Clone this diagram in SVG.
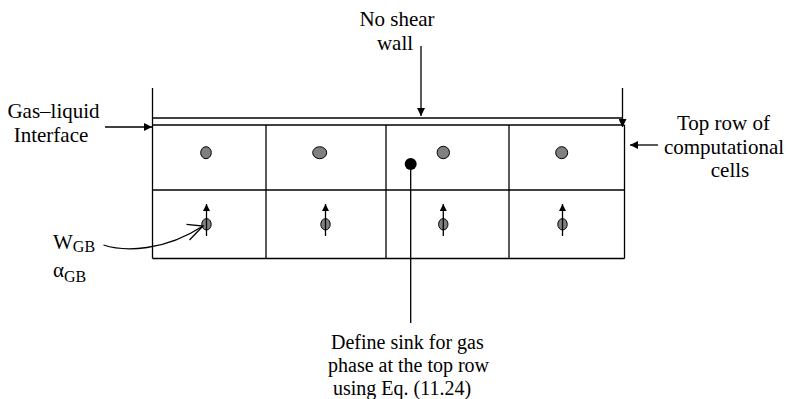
<svg xmlns="http://www.w3.org/2000/svg" width="788" height="399" viewBox="0 0 788 399">
<style>
.ln{stroke:#000;stroke-width:1.3;fill:none}
.g{fill:#808080;stroke:#000;stroke-width:1}
</style>
<defs>
<marker id="ah" viewBox="0 0 10 10" refX="10" refY="5" markerWidth="8" markerHeight="8" markerUnits="userSpaceOnUse" orient="auto">
<path d="M0,0 L10,5 L0,10 z" fill="#000"/>
</marker>
<marker id="ahs" viewBox="0 0 10 10" refX="10" refY="5" markerWidth="7" markerHeight="7" markerUnits="userSpaceOnUse" orient="auto">
<path d="M0,0 L10,5 L0,10 z" fill="#000"/>
</marker>
</defs>
<rect width="788" height="399" fill="#fff"/>
<g id="grid">
<line class="ln" x1="152.5" y1="88" x2="152.5" y2="258.5"/>
<line class="ln" x1="152.5" y1="118" x2="622.5" y2="118"/>
<line class="ln" x1="152.5" y1="125" x2="624.5" y2="125"/>
<line class="ln" x1="152.5" y1="190" x2="624.5" y2="190"/>
<line class="ln" x1="152.5" y1="258.5" x2="624.5" y2="258.5"/>
<line class="ln" x1="624.5" y1="125" x2="624.5" y2="258.5"/>
<line class="ln" x1="266" y1="125" x2="266" y2="258.5"/>
<line class="ln" x1="386" y1="125" x2="386" y2="258.5"/>
<line class="ln" x1="509" y1="125" x2="509" y2="258.5"/>
</g>
<g id="top-cells">
<ellipse class="g" cx="206" cy="152.7" rx="5.3" ry="6"/>
<ellipse class="g" cx="319.7" cy="152.7" rx="7" ry="6"/>
<ellipse class="g" cx="443.3" cy="152.5" rx="6.2" ry="6.2"/>
<ellipse class="g" cx="561.7" cy="152.7" rx="6" ry="6"/>
<circle id="sink" cx="410.7" cy="164" r="6" fill="#000"/>
</g>
<g id="bottom-cells">
<ellipse class="g" cx="206.5" cy="224.3" rx="4.7" ry="5.7"/>
<ellipse class="g" cx="325.5" cy="224.3" rx="4.7" ry="5.7"/>
<ellipse class="g" cx="443.3" cy="224.3" rx="4.7" ry="5.7"/>
<ellipse class="g" cx="562.5" cy="224.3" rx="4.7" ry="5.7"/>
</g>
<g id="connectors">
<line class="ln" x1="421" y1="46" x2="421" y2="116" marker-end="url(#ah)"/>
<line class="ln" x1="105" y1="127" x2="152" y2="127" marker-end="url(#ah)"/>
<line class="ln" x1="622.5" y1="88" x2="622.5" y2="127" marker-end="url(#ah)"/>
<line class="ln" x1="658" y1="145" x2="630" y2="145" marker-end="url(#ah)"/>
<line class="ln" x1="410.7" y1="164" x2="410.7" y2="323"/>
<line class="ln" x1="206.5" y1="236" x2="206.5" y2="204" marker-end="url(#ahs)"/>
<line class="ln" x1="325.5" y1="236" x2="325.5" y2="204" marker-end="url(#ahs)"/>
<line class="ln" x1="443.3" y1="236" x2="443.3" y2="204" marker-end="url(#ahs)"/>
<line class="ln" x1="562.5" y1="236" x2="562.5" y2="204" marker-end="url(#ahs)"/>
<path class="ln" d="M103.5,245 C125,252 165,251 203,226"/>
<path class="ln" d="M186.5,224.3 L203,226 L189.5,240"/>
</g>
<g id="labels" font-family="Liberation Serif, Tinos, Times New Roman, Noto Serif, DejaVu Serif, serif" font-size="21" fill="#000">
<text id="lbl-wall" text-anchor="middle"><tspan x="397" y="26">No shear</tspan><tspan x="395" y="50">wall</tspan></text>
<text id="lbl-interface" text-anchor="middle"><tspan x="53.5" y="118">Gas–liquid</tspan><tspan x="51" y="142">Interface</tspan></text>
<text id="lbl-toprow" text-anchor="middle"><tspan x="723.5" y="130">Top row of</tspan><tspan x="724" y="154">computational</tspan><tspan x="730" y="177">cells</tspan></text>
<text id="lbl-w" x="53" y="249">W<tspan font-size="16" dy="3">GB</tspan></text>
<text id="lbl-a" x="53" y="277">α<tspan font-size="16" dy="5">GB</tspan></text>
<text id="lbl-sink" font-size="20"><tspan x="331" y="349">Define sink for gas</tspan><tspan x="328" y="372">phase at the top row</tspan><tspan x="333" y="395">using Eq. (11.24)</tspan></text>
</g>
</svg>
